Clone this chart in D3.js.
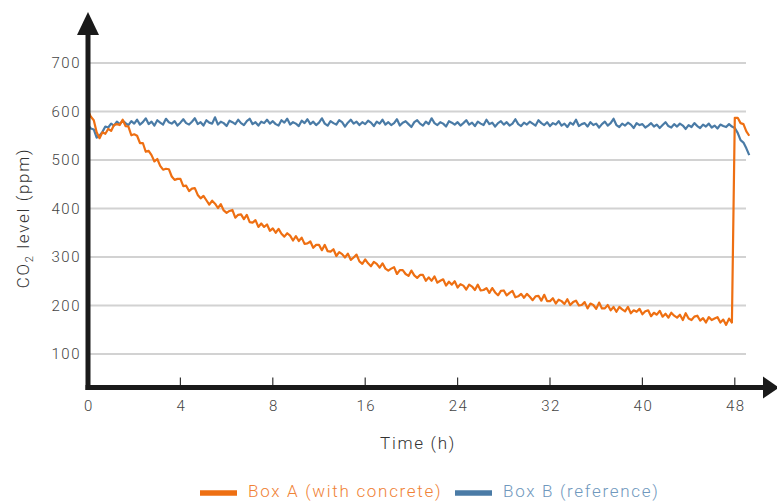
<!DOCTYPE html>
<html>
<head>
<meta charset="UTF-8" />
<title>CO2 level</title>
<style>
  body { margin: 0; background: #fff; }
  text { font-family: Roboto, "Noto Sans", sans-serif; font-weight: 300; letter-spacing: 0.1em; }
</style>
</head>
<body>
<script src="https://d3js.org/d3.v7.min.js"></script>
<script>
// x tick labels (evenly spaced on the chart)
var xTicks = [0, 4, 8, 16, 24, 32, 40, 48];
var yTicks = [100, 200, 300, 400, 500, 600, 700];

// sample times (h)
var timesA = [0, 0.125, 0.25, 0.375, 0.5, 0.625, 0.75, 0.875, 1, 1.125, 1.25, 1.375, 1.5, 1.625, 1.75, 1.875,
  2, 2.125, 2.25, 2.375, 2.5, 2.625, 2.75, 2.875, 3, 3.125, 3.25, 3.375, 3.5, 3.625, 3.75, 3.875,
  4, 4.125, 4.25, 4.375, 4.5, 4.625, 4.75, 4.875, 5, 5.125, 5.25, 5.375, 5.5, 5.625, 5.75, 5.875,
  6, 6.125, 6.25, 6.375, 6.5, 6.625, 6.75, 6.875, 7, 7.125, 7.25, 7.375, 7.5, 7.625, 7.75, 7.875];
var timesB = d3.range(8, 49.3, 0.25);
var times = timesA.concat(timesB);

// Box A (with concrete), ppm
var boxA = [
  602, 589, 582, 557, 545, 557, 554, 564, 560, 572, 574, 572, 583, 570, 569, 551,
  553, 550, 535, 535, 517, 519, 510, 497, 502, 488, 480, 482, 481, 466, 459, 461,
  461, 446, 447, 436, 441, 442, 428, 421, 426, 417, 408, 416, 410, 401, 409, 396,
  391, 395, 397, 381, 387, 388, 378, 387, 372, 371, 376, 362, 369, 362, 367, 354,
  359, 350, 358, 348, 342, 349, 344, 334, 343, 333, 340, 327, 328, 332, 319, 325,
  325, 314, 325, 312, 311, 316, 302, 310, 306, 299, 307, 294, 299, 305, 291, 286,
  295, 287, 281, 290, 286, 278, 287, 276, 272, 276, 279, 265, 273, 273, 265, 261,
  272, 262, 257, 263, 263, 251, 258, 251, 260, 247, 251, 254, 241, 249, 243, 250,
  237, 244, 241, 233, 243, 239, 232, 243, 231, 232, 236, 226, 236, 227, 221, 230,
  231, 221, 226, 230, 217, 219, 224, 216, 224, 218, 211, 219, 220, 210, 222, 209,
  209, 215, 204, 212, 209, 203, 213, 201, 207, 210, 200, 201, 207, 194, 204, 201,
  193, 206, 194, 194, 201, 190, 197, 187, 197, 192, 188, 197, 184, 190, 187, 193,
  182, 188, 190, 178, 185, 181, 189, 177, 183, 175, 185, 179, 175, 181, 170, 184,
  173, 170, 177, 179, 169, 174, 165, 176, 170, 173, 176, 165, 171, 160, 173, 165,
  587, 587, 576, 574, 559, 550];

// Box B (reference), ppm
var boxB = [
  572, 565, 563, 546, 550, 558, 569, 567, 575, 571, 579, 574, 581, 576, 572, 580,
  575, 583, 573, 578, 586, 574, 579, 571, 582, 577, 573, 585, 578, 575, 580, 571,
  577, 584, 576, 573, 579, 586, 574, 578, 571, 582, 577, 575, 588, 573, 579, 576,
  570, 581, 578, 574, 583, 576, 572, 580, 585, 574, 578, 571, 579, 576, 583, 575,
  580, 574, 571, 582, 577, 585, 573, 578, 575, 570, 581, 576, 584, 574, 579, 572,
  577, 586, 575, 571, 580, 576, 573, 582, 578, 569, 577, 583, 575, 579, 572, 578,
  574, 581, 577, 570, 579, 575, 583, 573, 578, 572, 576, 584, 571, 577, 580, 574,
  568, 578, 582, 575, 571, 579, 574, 586, 576, 572, 578, 575, 569, 580, 577, 573,
  578, 571, 576, 582, 573, 577, 570, 579, 575, 572, 583, 574, 577, 569, 576, 580,
  573, 578, 571, 575, 584, 574, 570, 577, 573, 579, 575, 571, 582, 576, 572, 578,
  570, 576, 573, 580, 571, 575, 568, 577, 573, 583, 570, 574, 576, 569, 578, 572,
  575, 567, 574, 579, 571, 576, 585, 572, 568, 575, 571, 577, 573, 566, 576, 572,
  574, 567, 571, 576, 569, 573, 566, 572, 578, 570, 567, 574, 569, 575, 571, 564,
  572, 568, 576, 570, 566, 573, 569, 575, 567, 571, 565, 573, 570, 568, 574, 569,
  566, 556, 541, 536, 524, 510];

var seriesNames = ["Box A (with concrete)", "Box B (reference)"];
var seriesColors = ["#ee6f12", "#4a7ba6"];
var legendColors = ["#f08236", "#6f98bd"];

var width = 777, height = 502;
var x0 = 88, step = 92.4, axisY = 387.5;

var svg = d3.select("body").append("svg")
  .attr("width", width)
  .attr("height", height);

var x = d3.scaleLinear()
  .domain(xTicks)
  .range(xTicks.map(function(d, i) { return x0 + i * step; }));

var y = d3.scaleLinear().domain([100, 700]).range([354, 63]);

// grid
svg.append("g")
  .selectAll("line")
  .data(yTicks)
  .join("line")
  .attr("x1", x0)
  .attr("x2", 746)
  .attr("y1", function(d) { return y(d); })
  .attr("y2", function(d) { return y(d); })
  .attr("stroke", "#d2d2d2")
  .attr("stroke-width", 2);

// y tick labels
svg.append("g")
  .selectAll("text")
  .data(yTicks)
  .join("text")
  .attr("x", 81)
  .attr("y", function(d) { return y(d); })
  .attr("dy", "0.35em")
  .attr("text-anchor", "end")
  .attr("fill", "#444")
  .style("font-size", "15px")
  .text(function(d) { return d; });

// lines
var line = d3.line()
  .x(function(d) { return x(d[0]); })
  .y(function(d) { return y(d[1]); });

[boxB, boxA].forEach(function(vals) {
  var i = vals === boxA ? 0 : 1;
  svg.append("path")
    .datum(times.map(function(t, k) { return [t, vals[k]]; }))
    .attr("fill", "none")
    .attr("stroke", seriesColors[i])
    .attr("stroke-width", 2.2)
    .attr("stroke-linejoin", "round")
    .attr("d", line);
});

// x ticks
var xAxis = svg.append("g");
xAxis.selectAll("line")
  .data(xTicks.slice(1))
  .join("line")
  .attr("x1", function(d) { return x(d); })
  .attr("x2", function(d) { return x(d); })
  .attr("y1", axisY - 10)
  .attr("y2", axisY)
  .attr("stroke", "#333")
  .attr("stroke-width", 1.2);

xAxis.selectAll("text")
  .data(xTicks)
  .join("text")
  .attr("x", function(d) { return x(d) + 1; })
  .attr("y", 411)
  .attr("text-anchor", "middle")
  .attr("fill", "#444")
  .style("font-size", "15px")
  .text(function(d) { return d; });

// axes with arrows
svg.append("line")
  .attr("x1", x0).attr("x2", x0)
  .attr("y1", axisY + 2.5).attr("y2", 30)
  .attr("stroke", "#1a1a1a").attr("stroke-width", 5);
svg.append("path")
  .attr("d", "M" + x0 + ",12L" + (x0 + 11) + ",35L" + (x0 - 11) + ",35Z")
  .attr("fill", "#1a1a1a");

svg.append("line")
  .attr("x1", x0 - 2.5).attr("x2", 766)
  .attr("y1", axisY).attr("y2", axisY)
  .attr("stroke", "#1a1a1a").attr("stroke-width", 5);
svg.append("path")
  .attr("d", "M779," + axisY + "L763," + (axisY - 11) + "L763," + (axisY + 11) + "Z")
  .attr("fill", "#1a1a1a");

// axis titles
svg.append("text")
  .attr("x", 418)
  .attr("y", 449)
  .attr("text-anchor", "middle")
  .attr("fill", "#333")
  .style("font-size", "17px")
  .text("Time (h)");

var yt = svg.append("text")
  .attr("transform", "translate(29,218) rotate(-90)")
  .attr("text-anchor", "middle")
  .attr("fill", "#333")
  .style("font-size", "17px");
yt.append("tspan").text("CO");
yt.append("tspan").attr("dy", 4).style("font-size", "11px").text("2");
yt.append("tspan").attr("dy", -4).text(" level (ppm)");

// legend
var legendX = [200, 455];
var lg = svg.append("g")
  .selectAll("g")
  .data(seriesNames)
  .join("g")
  .attr("transform", function(d, i) { return "translate(" + legendX[i] + ",493)"; });
lg.append("line")
  .attr("x1", 0).attr("x2", 37)
  .attr("stroke", function(d, i) { return seriesColors[i]; })
  .attr("stroke-width", 5.5);
lg.append("text")
  .attr("x", 48)
  .attr("y", 4)
  .attr("fill", function(d, i) { return legendColors[i]; })
  .style("font-size", "17px")
  .text(function(d) { return d; });
</script>
</body>
</html>
